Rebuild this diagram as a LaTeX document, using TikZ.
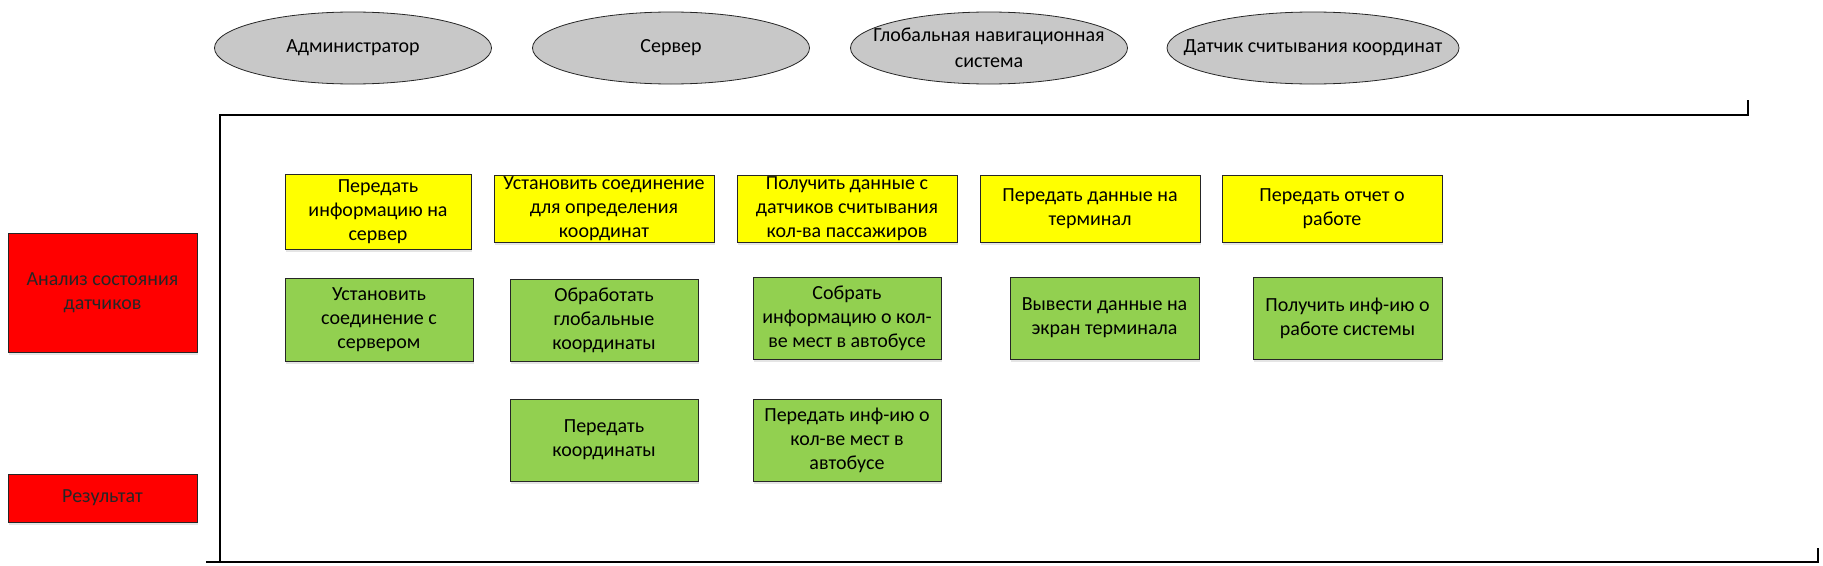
\documentclass[tikz,border=0pt]{standalone}
\usepackage{fontspec}
\setmainfont{Carlito}
\usetikzlibrary{shapes.geometric,shadows}
\definecolor{yfill}{HTML}{FFFF00}
\definecolor{gfill}{HTML}{92D050}
\definecolor{rfill}{HTML}{FF0000}
\definecolor{efill}{HTML}{C8C8C8}
\newcommand{\zb}[1]{\makebox[0pt]{#1}}
\begin{document}
\begin{tikzpicture}[x=1pt,y=-1pt,
  base/.style={draw=black!85, line width=1pt, align=center, inner sep=0pt,
    font=\fontsize{20}{24}\selectfont,
    drop shadow={shadow xshift=1pt, shadow yshift=-3pt, fill=black, opacity=0.10}},
  ybox/.style={base, fill=yfill, minimum width=220pt, minimum height=67pt},
  gbox/.style={base, fill=gfill, minimum width=188pt, minimum height=82pt},
  rbox/.style={base, fill=rfill, minimum width=189pt, text=black!85},
  actor/.style={ellipse, draw=black!85, line width=0.8pt, fill=efill, align=center,
    inner sep=0pt, minimum width=277pt, minimum height=72pt,
    font=\fontsize{20}{26}\selectfont},
  frame/.style={draw=black, line width=2pt}
]
\useasboundingbox (0,0) rectangle (1823,565);

% actors
\node[actor] (e1) at (353,48) {\zb{Администратор}};
\node[actor] (e2) at (671,48) {\zb{Сервер}};
\node[actor] (e3) at (989,48) {\zb{Глобальная навигационная}\\\zb{система}};
\node[actor, minimum width=292pt] (e4) at (1313,48) {\zb{Датчик считывания координат}};

% frame
\coordinate (trt) at (1748,100);
\coordinate (tr) at (1748,115);
\coordinate (tl) at (220,115);
\coordinate (lb) at (220,562);
\coordinate (bl) at (206,562);
\coordinate (br) at (1818,562);
\coordinate (brt) at (1818,548);
\draw[frame] (trt) -- (tr) -- (tl) -- (lb);
\draw[frame] (bl) -- (br) -- (brt);

% left labels
\node[rbox, minimum height=119pt] (r1) at (102.5,292.5) {Анализ состояния\\датчиков};
\node[rbox, minimum height=48pt] (r2) at (102.5,498) {Результат};

% yellow row
\node[ybox, minimum width=186pt, minimum height=75pt] (y1) at (378,211.5) {Передать\\информацию на\\сервер};
\node[ybox] (y2) at (604,208.5) {Установить соединение\\для определения\\координат};
\node[ybox] (y3) at (847,208.5) {Получить данные с\\датчиков считывания\\кол-ва пассажиров};
\node[ybox] (y4) at (1090,208.5) {Передать данные на\\терминал};
\node[ybox] (y5) at (1332,208.5) {Передать отчет о\\работе};

% green rows
\node[gbox, minimum height=83pt] (g1) at (379,319.5) {Установить\\соединение с\\сервером};
\node[gbox] (g2) at (604,320) {Обработать\\глобальные\\координаты};
\node[gbox] (g3) at (847,318) {Собрать\\информацию о кол-\\ве мест в автобусе};
\node[gbox, minimum width=189pt] (g4) at (1104.5,318) {Вывести данные на\\экран терминала};
\node[gbox, minimum width=189pt] (g5) at (1347.5,318) {Получить инф-ию о\\работе системы};
\node[gbox] (g6) at (604,440) {Передать\\координаты};
\node[gbox] (g7) at (847,440) {Передать инф-ию о\\кол-ве мест в\\автобусе};
\end{tikzpicture}
\end{document}
